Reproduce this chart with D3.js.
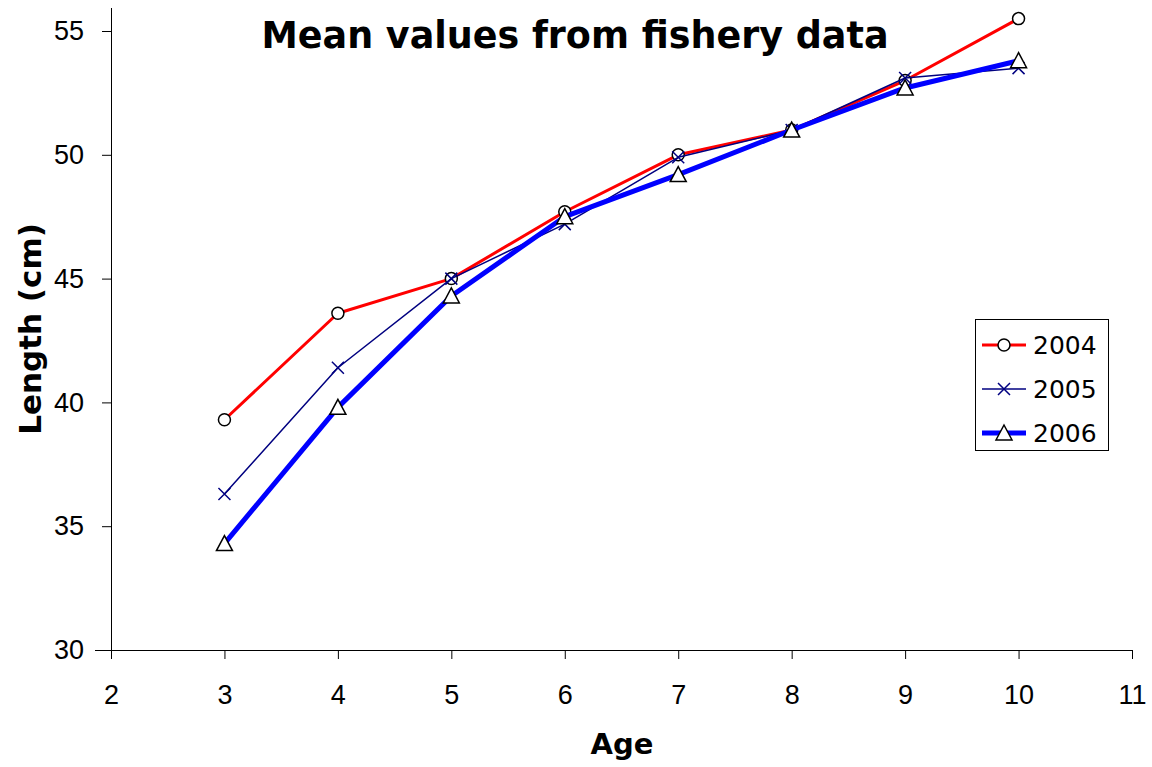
<!DOCTYPE html>
<html><head><meta charset="utf-8">
<script src="https://cdn.jsdelivr.net/npm/d3@7"></script>
<style>body{margin:0;background:#fff}svg{display:block}</style>
</head><body>
<svg id="c" width="1152" height="767"></svg>
<script>
const ages = [3, 4, 5, 6, 7, 8, 9, 10];
const s2004 = [39.3, 43.6, 45.0, 47.7, 50.0, 51.0, 53.0, 55.5];
const s2005 = [36.3, 41.4, 45.0, 47.2, 49.9, 51.0, 53.1, 53.5];
const s2006 = [34.3, 39.8, 44.3, 47.5, 49.2, 51.0, 52.7, 53.8];
const seriesNames = ["2004", "2005", "2006"];
const xTicks = [2, 3, 4, 5, 6, 7, 8, 9, 10, 11];
const yTicks = [30, 35, 40, 45, 50, 55];
const title = "Mean values from fishery data";
const xLabel = "Age";
const yLabel = "Length (cm)";

const styles = [
  {color: "#ff0000", width: 3, marker: "circle"},
  {color: "#000080", width: 1.5, marker: "cross"},
  {color: "#0000ff", width: 5, marker: "triangle"}
];
const series = [s2004, s2005, s2006];

const svg = d3.select("#c");
const x = d3.scaleLinear().domain([2, 11]).range([111, 1132]);
const y = d3.scaleLinear().domain([30, 55]).range([650, 31]);

// axes
const xAxis = d3.axisBottom(x).tickValues(xTicks).tickSize(9).tickPadding(26).tickFormat(d3.format("d"));
const gx = svg.append("g").attr("transform", "translate(0,650)").call(xAxis);
gx.select(".domain").attr("d", "M95,0.5H1132").attr("stroke", "#000");
gx.selectAll(".tick line").attr("stroke", "#000");
gx.selectAll(".tick text").attr("font-family", "Liberation Sans, Arial, sans-serif").attr("font-size", 27).attr("fill", "#000");

const yAxis = d3.axisLeft(y).tickValues(yTicks).tickSize(9).tickPadding(18);
const gy = svg.append("g").attr("transform", "translate(111,0)").call(yAxis);
gy.select(".domain").attr("d", "M0.5,8V658").attr("stroke", "#000");
gy.selectAll(".tick line").attr("stroke", "#000");
gy.selectAll(".tick text").attr("font-family", "Liberation Sans, Arial, sans-serif").attr("font-size", 27).attr("fill", "#000");

// labels
svg.append("text").attr("x", 575).attr("y", 48).attr("text-anchor", "middle")
  .attr("font-family", "DejaVu Sans, Verdana, sans-serif").attr("font-weight", "bold").attr("font-size", 36.5).text(title);
svg.append("text").attr("x", 622).attr("y", 754).attr("text-anchor", "middle")
  .attr("font-family", "DejaVu Sans, Verdana, sans-serif").attr("font-weight", "bold").attr("font-size", 29).text(xLabel);
svg.append("text").attr("transform", "translate(41,329) rotate(-90)").attr("text-anchor", "middle")
  .attr("font-family", "DejaVu Sans, Verdana, sans-serif").attr("font-weight", "bold").attr("font-size", 31).text(yLabel);

function drawMarker(g, type, cx, cy, color) {
  if (type === "circle") {
    g.append("circle").attr("cx", cx).attr("cy", cy).attr("r", 6).attr("fill", "#fff").attr("stroke", "#000").attr("stroke-width", 1.5);
  } else if (type === "cross") {
    g.append("path").attr("d", `M${cx-6},${cy-6}L${cx+6},${cy+6}M${cx-6},${cy+6}L${cx+6},${cy-6}`)
      .attr("stroke", color).attr("stroke-width", 1.5).attr("fill", "none");
  } else {
    g.append("path").attr("d", `M${cx},${cy-8}L${cx+8},${cy+7}L${cx-8},${cy+7}Z`)
      .attr("fill", "#fff").attr("stroke", "#000").attr("stroke-width", 1.5);
  }
}

const line = d3.line().x((d, i) => x(ages[i])).y(d => y(d));
series.forEach((s, k) => {
  const st = styles[k];
  const g = svg.append("g");
  g.append("path").datum(s).attr("d", line).attr("fill", "none").attr("stroke", st.color)
    .attr("stroke-width", st.width).attr("stroke-linejoin", "round");
  s.forEach((v, i) => drawMarker(g, st.marker, x(ages[i]), y(v), st.color));
});

// legend
const lg = svg.append("g");
lg.append("rect").attr("x", 975.5).attr("y", 319.5).attr("width", 133).attr("height", 131)
  .attr("fill", "#fff").attr("stroke", "#000").attr("stroke-width", 1);
seriesNames.forEach((n, k) => {
  const st = styles[k];
  const ly = 345 + k * 44;
  lg.append("line").attr("x1", 982).attr("x2", 1026).attr("y1", ly).attr("y2", ly)
    .attr("stroke", st.color).attr("stroke-width", st.width);
  drawMarker(lg, st.marker, 1004, ly, st.color);
  lg.append("text").attr("x", 1033).attr("y", ly + 9).attr("font-family", "DejaVu Sans, Verdana, sans-serif")
    .attr("font-size", 25).text(n);
});
</script>
</body></html>
